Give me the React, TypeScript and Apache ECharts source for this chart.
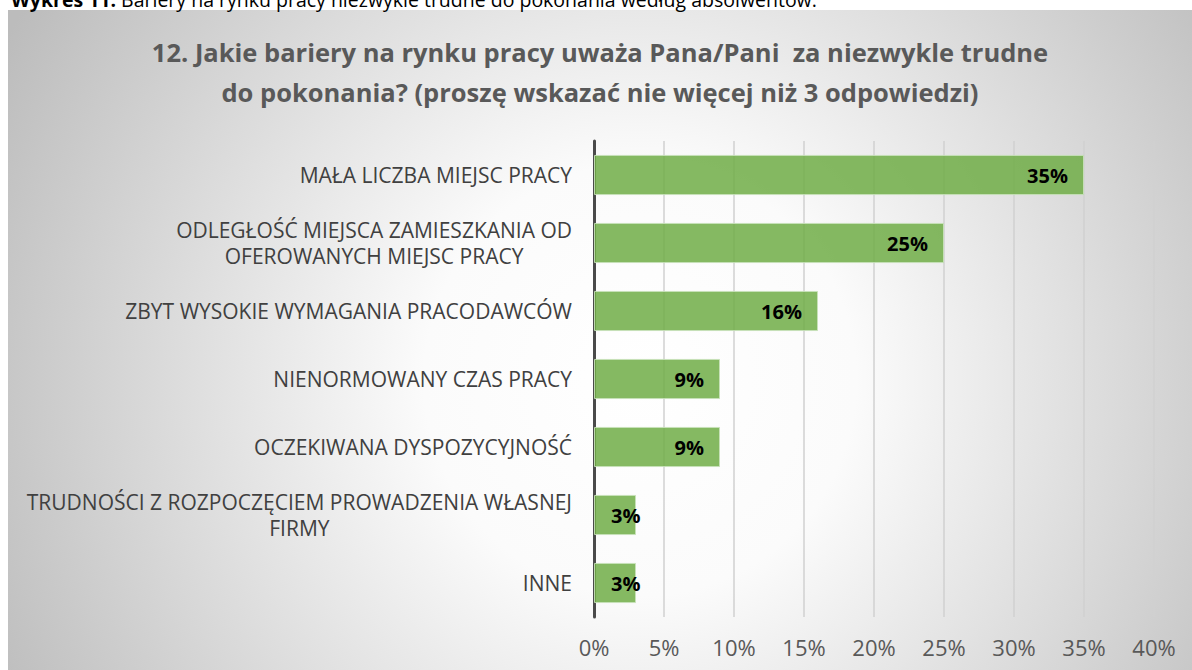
import React, { useEffect, useRef } from "react";
import * as echarts from "echarts";

const captionBold = "Wykres 11.";
const captionRest = " Bariery na rynku pracy niezwykle trudne do pokonania według absolwentów.";
const titleLines = [
  "12. Jakie bariery na rynku pracy uważa Pana/Pani  za niezwykle trudne",
  "do pokonania? (proszę wskazać nie więcej niż 3 odpowiedzi)",
];
const categories = [
  "MAŁA LICZBA MIEJSC PRACY",
  "ODLEGŁOŚĆ MIEJSCA ZAMIESZKANIA OD\nOFEROWANYCH MIEJSC PRACY",
  "ZBYT WYSOKIE WYMAGANIA PRACODAWCÓW",
  "NIENORMOWANY CZAS PRACY",
  "OCZEKIWANA DYSPOZYCYJNOŚĆ",
  "TRUDNOŚCI Z ROZPOCZĘCIEM PROWADZENIA WŁASNEJ\nFIRMY",
  "INNE",
];
const values = [35, 25, 16, 9, 9, 3, 3];
const axisMin = 0;
const axisMax = 40;
const axisStep = 5;

const FONT = "Open Sans";

export default function App() {
  const ref = useRef<HTMLDivElement>(null);
  useEffect(() => {
    if (!ref.current) return;
    const chart = echarts.init(ref.current, undefined, { renderer: "svg" });
    chart.setOption({
      animation: false,
      graphic: [
        {
          type: "rect",
          z: -10,
          silent: true,
          shape: { x: 8, y: 10, width: 1200, height: 680 },
          style: {
            fill: new echarts.graphic.RadialGradient(640, 380, 720, [
              { offset: 0, color: "#ffffff" },
              { offset: 0.3, color: "#fbfbfb" },
              { offset: 1, color: "#bcbcbc" },
            ], true),
          },
        },
        {
          type: "text",
          left: 11,
          top: -11,
          style: {
            text: `{b|${captionBold}}{n|${captionRest}}`,
            rich: {
              b: { fontFamily: FONT, fontSize: 19.5, fontWeight: "bold", fill: "#000" },
              n: { fontFamily: FONT, fontSize: 19.5, fill: "#000" },
            },
          },
        },
        {
          type: "text",
          x: 600,
          y: 32,
          style: {
            text: titleLines.join("\n"),
            align: "center",
            verticalAlign: "top",
            fontFamily: FONT,
            fontSize: 25.5,
            fontWeight: "bold",
            lineHeight: 40,
            fill: "#595959",
          },
        },
      ],
      grid: { left: 594, right: 38, top: 141, bottom: 53, containLabel: false },
      xAxis: {
        type: "value",
        min: axisMin,
        max: axisMax,
        interval: axisStep,
        axisLine: { show: false },
        axisTick: { show: false },
        splitLine: { show: true, lineStyle: { color: "#d0d0d0", width: 1.5 } },
        axisLabel: {
          formatter: "{value}%",
          fontFamily: FONT,
          fontSize: 22,
          color: "#595959",
          margin: 19,
        },
      },
      yAxis: {
        type: "category",
        data: categories,
        inverse: true,
        axisLine: { show: true, lineStyle: { color: "#4a4a4a", width: 3 } },
        axisTick: { show: false },
        splitLine: { show: false },
        axisLabel: {
          margin: 22,
          formatter: (v: string) => v.split("\n").map((l) => `{c|${l}}`).join("\n"),
          rich: {
            c: {
              align: "center",
              fontFamily: FONT,
              fontSize: 21,
              color: "#404040",
              lineHeight: 26,
            },
          },
        },
      },
      series: [
        {
          type: "bar",
          data: values.map((v) =>
            v < 5 ? { value: v, label: { position: "insideLeft", distance: 17 } } : v
          ),
          barCategoryGap: "41%",
          itemStyle: {
            color: "rgba(112,173,71,0.85)",
            borderColor: "rgba(200,225,185,0.9)",
            borderWidth: 1,
          },
          label: {
            show: true,
            position: "insideRight",
            distance: 16,
            formatter: "{c}%",
            fontFamily: FONT,
            fontSize: 20,
            fontWeight: "bold",
            color: "#000",
          },
        },
      ],
    });
    return () => chart.dispose();
  }, []);
  return (
    <div
      ref={ref}
      style={{ position: "absolute", left: 0, top: 0, width: 1192, height: 670 }}
    />
  );
}
